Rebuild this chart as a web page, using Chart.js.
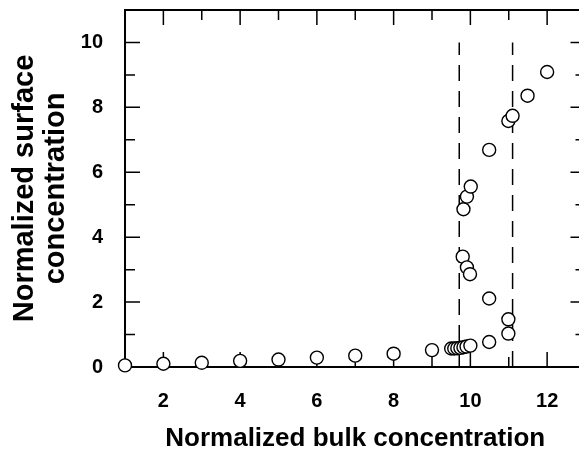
<!DOCTYPE html>
<html>
<head>
<meta charset="utf-8">
<script src="https://cdn.jsdelivr.net/npm/chart.js@4/dist/chart.umd.min.js"></script>
<style>
html,body{margin:0;padding:0;background:#fff;overflow:hidden;}
#wrap{width:600px;height:454px;}
</style>
</head>
<body>
<div id="wrap"><canvas id="c" width="600" height="454"></canvas></div>
<script>
// Low-concentration branch (below the transition)
const baseX = [1, 2, 3, 4, 5, 6, 7, 8, 9, 9.5, 9.58, 9.66, 9.74, 9.82, 9.9, 10.0];
const baseY = [0.05, 0.10, 0.13, 0.19, 0.23, 0.29, 0.35, 0.41, 0.52, 0.57, 0.57, 0.58, 0.59, 0.61, 0.63, 0.66];
// Lower branch inside the transition region
const lowerX = [9.8, 9.91, 9.99, 10.49, 10.99, 10.99, 10.49];
const lowerY = [3.40, 3.07, 2.86, 2.11, 1.47, 1.03, 0.77];
// Upper branch
const upperX = [9.82, 9.91, 10.01, 10.49, 10.99, 11.1, 11.49, 12.0];
const upperY = [4.86, 5.25, 5.56, 6.69, 7.58, 7.74, 8.36, 9.09];
// Dashed vertical boundaries
const dashX = [9.71, 11.1];
const dashYRange = [0, 10];
// Axis ticks
const xTickLabels = [2, 4, 6, 8, 10, 12];
const yTickLabels = [0, 2, 4, 6, 8, 10];
const xMinorTicks = [2, 3, 4, 5, 6, 7, 8, 9, 10, 11, 12];
const yMinorTicks = [1, 2, 3, 4, 5, 6, 7, 8, 9, 10];
const xRange = [1, 13];
const yRange = [0, 11];

const pts = (xs, ys) => xs.map((x, i) => ({x: x, y: ys[i]}));
const pointStyle = {
  showLine: false, pointRadius: 6.5, pointHoverRadius: 6.5,
  pointBackgroundColor: '#fff', pointBorderColor: '#000', pointBorderWidth: 1.4,
  clip: false
};
const datasets = [
  Object.assign({data: pts(upperX, upperY)}, pointStyle),
  Object.assign({data: pts(lowerX, lowerY)}, pointStyle),
  Object.assign({data: pts(baseX, baseY)}, pointStyle)
];
dashX.forEach(x => datasets.push({
  type: 'line', data: dashYRange.map(y => ({x: x, y: y})),
  borderColor: '#000', borderWidth: 1.5, borderDash: [16, 10],
  pointRadius: 0, fill: false
}));

const frame = {
  id: 'frame',
  beforeDatasetsDraw(chart) {
    const {ctx, chartArea: a, scales: {x, y}} = chart;
    ctx.save();
    ctx.strokeStyle = '#000';
    ctx.lineWidth = 2;
    ctx.strokeRect(a.left, a.top, a.right - a.left, a.bottom - a.top);
    ctx.lineWidth = 1.5;
    ctx.beginPath();
    xMinorTicks.forEach(v => {
      const px = x.getPixelForValue(v);
      const len = v % 2 === 0 ? 15 : 10;
      ctx.moveTo(px, a.bottom); ctx.lineTo(px, a.bottom - len);
      ctx.moveTo(px, a.top); ctx.lineTo(px, a.top + len);
    });
    yMinorTicks.forEach(v => {
      const py = y.getPixelForValue(v);
      const len = v % 2 === 0 ? 15 : 10;
      ctx.moveTo(a.left, py); ctx.lineTo(a.left + len, py);
      ctx.moveTo(a.right, py); ctx.lineTo(a.right - len, py);
    });
    ctx.stroke();
    ctx.restore();
  }
};

const FONT = 'Liberation Sans, Arial, sans-serif';
new Chart(document.getElementById('c'), {
  type: 'scatter',
  data: {datasets: datasets},
  options: {
    responsive: false,
    animation: false,
    events: [],
    layout: {padding: {left: 0, top: 10, right: 14.5, bottom: 0}},
    plugins: {legend: {display: false}, tooltip: {enabled: false}},
    scales: {
      x: {
        type: 'linear', min: xRange[0], max: xRange[1],
        grid: {display: false}, border: {display: false},
        afterFit(s) { s.height = 87; s.paddingLeft = 0; s.paddingRight = 0; },
        afterBuildTicks(s) { s.ticks = xTickLabels.map(v => ({value: v})); },
        ticks: {padding: 14, color: '#000', font: {family: FONT, size: 20, weight: 'bold'}},
        title: {display: true, text: 'Normalized bulk concentration', color: '#000', padding: {top: 0, bottom: 0},
          font: {family: FONT, size: 26, weight: 'bold'}}
      },
      y: {
        type: 'linear', min: yRange[0], max: yRange[1],
        grid: {display: false}, border: {display: false},
        afterFit(s) { s.width = 125; s.paddingTop = 0; s.paddingBottom = 0; },
        afterBuildTicks(s) { s.ticks = yTickLabels.map(v => ({value: v})); },
        ticks: {padding: 14, color: '#000', font: {family: FONT, size: 20, weight: 'bold'}},
        title: {display: true, text: ['Normalized surface', 'concentration'], color: '#000', padding: {top: 10, bottom: 0},
          font: {family: FONT, size: 29, weight: 'bold', lineHeight: 1.05}}
      }
    }
  },
  plugins: [frame]
});
</script>
</body>
</html>
